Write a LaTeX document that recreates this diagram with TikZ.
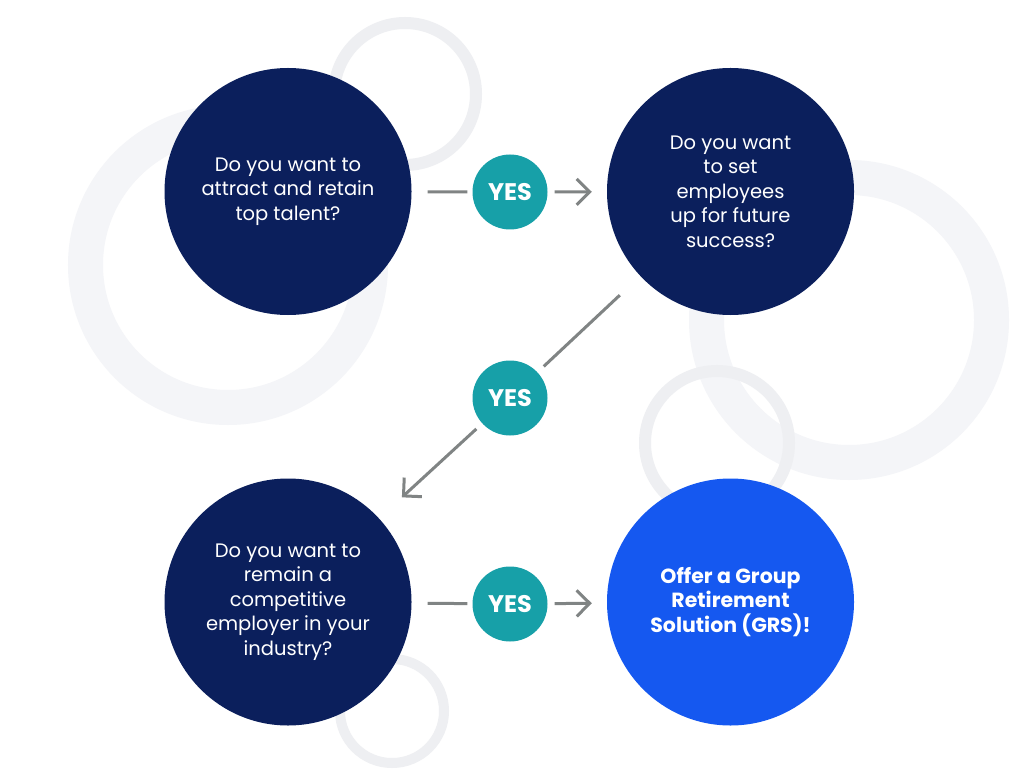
\documentclass[tikz,border=0pt]{standalone}
\usepackage{fontspec}
\setmainfont{Poppins}
\usetikzlibrary{arrows.meta}
\definecolor{navyq}{HTML}{0B1F5C}
\definecolor{yesteal}{HTML}{17A0A8}
\definecolor{grsblue}{HTML}{1558F0}
\definecolor{linegray}{HTML}{808484}
\definecolor{ringlight}{HTML}{F4F5F8}
\definecolor{ringdark}{HTML}{EEEFF2}
\begin{document}
\begin{tikzpicture}[x=1pt,y=-1pt,
  qnode/.style={circle, fill=navyq, minimum size=247pt, inner sep=0pt, text=white, align=center,
    font=\fontsize{19.5}{24.5}\selectfont},
  yesnode/.style={circle, fill=yesteal, minimum size=75pt, inner sep=0pt, text=white,
    font=\fontsize{24}{26}\selectfont\bfseries},
  conn/.style={draw=linegray, line width=3pt},
  arr/.style={conn, -{Straight Barb[length=13pt,width=26pt]}},
  bigring/.style={draw=ringlight, line width=35pt},
  smallring/.style={draw=ringdark, line width=12pt}]
\useasboundingbox (0,0) rectangle (1024,783);
\fill[white] (0,0) rectangle (1024,783);
% background rings
\draw[bigring] (228,265) circle[radius=142.5];
\draw[bigring] (849,320) circle[radius=142.5];
\draw[smallring] (405,94) circle[radius=71];
\draw[smallring] (717,443) circle[radius=72];
\draw[smallring, line width=10pt] (392,711) circle[radius=52];
% question nodes
\node[qnode] (q1) at (288,191.5) {Do you want to\\attract and retain\\top talent?};
\node[qnode] (q2) at (730.5,191.5) {Do you want\\to set\\employees\\up for future\\success?};
\node[qnode] (q3) at (288,602) {Do you want to\\remain a\\competitive\\employer in your\\industry?};
\node[qnode, fill=grsblue, font=\fontsize{20.5}{24.5}\selectfont\bfseries] (grs) at (730.5,602) {Offer a Group\\Retirement\\Solution (GRS)!};
% yes nodes
\node[yesnode] (y1) at (510,192) {YES};
\node[yesnode] (y2) at (510,398) {YES};
\node[yesnode] (y3) at (510,604) {YES};
% connectors
\draw[conn, shorten <=16pt, shorten >=5pt] (q1) -- (y1);
\draw[arr, shorten <=7pt, shorten >=15pt] (y1) -- (q2);
\draw[conn, shorten <=28pt, shorten >=8.5pt] (q2) -- (y2);
\draw[arr, shorten <=8pt, shorten >=31pt] (y2) -- (q3);
\draw[conn, shorten <=16pt, shorten >=5pt] (q3) -- (y3);
\draw[arr, shorten <=7pt, shorten >=15pt] (y3) -- (grs);
\end{tikzpicture}
\end{document}
